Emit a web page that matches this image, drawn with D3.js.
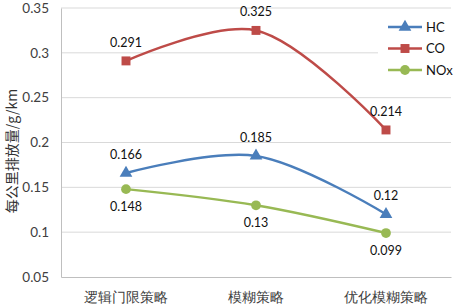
<!DOCTYPE html>
<html lang="zh">
<head>
<meta charset="utf-8"/>
<style>
  body { margin: 0; background: #fff; }
  svg { display: block; }
  .tick text { font-family: Lato, "Open Sans", sans-serif; font-size: 13.5px; fill: #404040; }
  .cat { font-family: "Noto Sans CJK SC", sans-serif; font-size: 14.5px; fill: #222; }
  .lbl { font-family: Lato, "Open Sans", sans-serif; font-size: 12.5px; fill: #111; }
  .leg { font-family: Lato, "Open Sans", sans-serif; font-size: 13px; fill: #111; }
</style>
</head>
<body>
<svg id="chart" width="455" height="308"></svg>
<script src="https://d3js.org/d3.v7.min.js"></script>
<script>
  // data
  let categories = ["逻辑门限策略", "模糊策略", "优化模糊策略"]
  let hc = [0.166, 0.185, 0.12]
  let co = [0.291, 0.325, 0.214]
  let nox = [0.148, 0.13, 0.099]
  let yTicks = [0.05, 0.1, 0.15, 0.2, 0.25, 0.3, 0.35]

  let series = [
    {name: "HC", values: hc, color: "#4A7EBB", shape: d3.symbolTriangle, size: 70, below: false},
    {name: "CO", values: co, color: "#BE4B48", shape: d3.symbolSquare, size: 80, below: false},
    {name: "NOx", values: nox, color: "#98B954", shape: d3.symbolCircle, size: 75, below: true}
  ]

  let svg = d3.select("#chart")
  let plotLeft = 61, plotRight = 451, plotTop = 8, plotBottom = 277

  let x = d3.scaleBand().domain(categories).range([plotLeft, plotRight])
  let y = d3.scaleLinear().domain([0.05, 0.35]).range([plotBottom, plotTop])

  // gridlines
  svg.append("g")
    .selectAll("line")
    .data(yTicks.slice(1))
    .enter().append("line")
    .attr("x1", plotLeft).attr("x2", plotRight)
    .attr("y1", d => y(d)).attr("y2", d => y(d))
    .attr("stroke", "#d9d9d9").attr("stroke-width", 1)

  // y axis
  let yAxis = svg.append("g")
    .attr("transform", "translate(" + plotLeft + ",0)")
    .call(d3.axisLeft(y).tickValues(yTicks).tickSize(0).tickPadding(12).tickFormat(d3.format("~g")))
  yAxis.select(".domain").attr("stroke", "#bfbfbf")

  // x axis
  let xAxis = svg.append("g")
    .attr("transform", "translate(0," + plotBottom + ")")
    .call(d3.axisBottom(x).tickSize(0).tickPadding(15))
  xAxis.select(".domain").attr("stroke", "#bfbfbf")
  xAxis.selectAll(".tick text").attr("class", "cat")

  // y title
  svg.append("text")
    .attr("class", "cat")
    .attr("transform", "translate(17,151) rotate(-90)")
    .attr("text-anchor", "middle")
    .style("font-size", "14px")
    .style("fill", "#333")
    .text("每公里排放量/g/km")

  let cx = (d, i) => x(categories[i]) + x.bandwidth() / 2
  let line = d3.line()
    .x(cx)
    .y(d => y(d))
    .curve(d3.curveCatmullRom.alpha(0.5))

  series.forEach(s => {
    svg.append("path")
      .datum(s.values)
      .attr("d", line)
      .attr("fill", "none")
      .attr("stroke", s.color)
      .attr("stroke-width", 2.5)

    svg.append("g").selectAll("path")
      .data(s.values)
      .enter().append("path")
      .attr("d", d3.symbol().type(s.shape).size(s.size))
      .attr("transform", (d, i) => "translate(" + cx(d, i) + "," + y(d) + ")")
      .attr("fill", s.color)

    svg.append("g").selectAll("text")
      .data(s.values)
      .enter().append("text")
      .attr("class", "lbl")
      .attr("x", cx)
      .attr("y", d => s.below ? y(d) + 22 : y(d) - 14)
      .attr("text-anchor", "middle")
      .text(d => d)
  })

  // legend, white box over the gridlines
  svg.append("rect")
    .attr("x", 378).attr("y", 12).attr("width", 77).attr("height", 72)
    .attr("fill", "#fff")
  let leg = svg.append("g").selectAll("g")
    .data(series)
    .enter().append("g")
    .attr("transform", (d, i) => "translate(388," + (27 + i * 21.5) + ")")
  leg.append("line")
    .attr("x1", 0).attr("x2", 34)
    .attr("stroke", d => d.color).attr("stroke-width", 2.5)
  leg.append("path")
    .attr("d", d => d3.symbol().type(d.shape).size(d.size)())
    .attr("transform", "translate(17,0)")
    .attr("fill", d => d.color)
  leg.append("text")
    .attr("class", "leg")
    .attr("x", 38).attr("dy", "0.35em")
    .text(d => d.name)
</script>
</body>
</html>
